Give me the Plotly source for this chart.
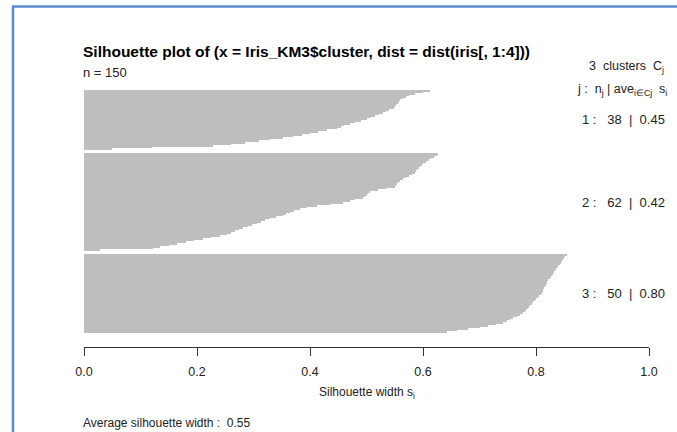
import plotly.graph_objects as go

# ---- data ----
cluster_ids = [1, 2, 3]
cluster_sizes = [38, 62, 50]
cluster_avgs = [0.45, 0.42, 0.80]
overall_avg = 0.55
n_total = 150

sil_c1 = [0.612, 0.60, 0.585, 0.575, 0.57, 0.565, 0.56, 0.558, 0.555, 0.552,
          0.55, 0.548, 0.54, 0.535, 0.53, 0.52, 0.515, 0.506, 0.50, 0.49,
          0.48, 0.47, 0.46, 0.455, 0.447, 0.43, 0.415, 0.40, 0.385, 0.37,
          0.353, 0.33, 0.31, 0.285, 0.26, 0.228, 0.12, 0.05]
sil_c2 = [0.627, 0.624, 0.62, 0.615, 0.61, 0.605, 0.60, 0.598, 0.595,
          0.593, 0.59, 0.588, 0.586, 0.58, 0.575, 0.57, 0.565, 0.559,
          0.556, 0.554, 0.552, 0.55, 0.535, 0.52, 0.506, 0.502, 0.50, 0.497, 0.494,
          0.48, 0.47, 0.459, 0.435, 0.412, 0.395, 0.382,
          0.372, 0.365, 0.358, 0.352, 0.34, 0.329, 0.32, 0.313, 0.306,
          0.298, 0.29, 0.282, 0.275, 0.268, 0.26, 0.253,
          0.24, 0.225, 0.211, 0.195, 0.18, 0.164, 0.15, 0.135, 0.122, 0.028]
sil_c3 = [0.854, 0.852, 0.85, 0.848, 0.846, 0.844, 0.842, 0.839,
          0.837, 0.835, 0.833, 0.831, 0.83, 0.828, 0.826, 0.824, 0.821,
          0.82, 0.819, 0.818, 0.816, 0.815, 0.813, 0.812, 0.81,
          0.808, 0.805, 0.803, 0.80, 0.798, 0.795, 0.793, 0.79,
          0.787, 0.785, 0.782, 0.78, 0.777, 0.772, 0.766, 0.76,
          0.754, 0.748, 0.742, 0.73, 0.715, 0.70, 0.68, 0.66, 0.642]
x_ticks = [0.0, 0.2, 0.4, 0.6, 0.8, 1.0]
x_tick_labels = ["0.0", "0.2", "0.4", "0.6", "0.8", "1.0"]

# ---- layout helpers ----
W, H = 677, 432
L, R_, T, B = 84, 28, 90, 85
GAP = 2
FONT = "Liberation Sans, Arial, sans-serif"

series = [sil_c1, sil_c2, sil_c3]
xs, ys, mids = [], [], []
pos = 0
for k, vals in enumerate(series):
    start = pos
    for v in vals:
        xs.append(v)
        ys.append(pos + 0.5)
        pos += 1
    mids.append((start + pos) / 2)
    pos += GAP
total_units = pos - GAP
plot_h = H - T - B
bars_px = 333 - 90
y_max = plot_h / bars_px * total_units

fig = go.Figure()
fig.add_trace(go.Bar(
    x=xs, y=ys, orientation="h", width=1,
    marker=dict(color="#bebebe", line=dict(width=0)),
    hoverinfo="skip", showlegend=False,
))

def px2paper_x(px):
    return (px - L) / (W - L - R_)

def px2paper_y(py):
    return (H - B - py) / plot_h

annotations = [
    dict(text="<b>Silhouette plot of (x = Iris_KM3$cluster, dist = dist(iris[, 1:4]))</b>",
         xref="paper", yref="paper", x=px2paper_x(81), y=px2paper_y(51),
         xanchor="left", yanchor="middle", showarrow=False,
         font=dict(size=15.5, color="#000000", family=FONT)),
    dict(text=f"n = {n_total}", xref="paper", yref="paper",
         x=px2paper_x(81), y=px2paper_y(72), xanchor="left", yanchor="middle",
         showarrow=False, font=dict(size=13, color="#222222", family=FONT)),
    dict(text="3  clusters  C<sub>j</sub>", xref="paper", yref="paper",
         x=px2paper_x(666), y=px2paper_y(67), xanchor="right", yanchor="middle",
         showarrow=False, font=dict(size=12.5, color="#222222", family=FONT)),
    dict(text="j :  n<sub>j</sub> | ave<sub>i∈Cj</sub>  s<sub>i</sub>", xref="paper", yref="paper",
         x=px2paper_x(669), y=px2paper_y(90), xanchor="right", yanchor="middle",
         showarrow=False, font=dict(size=12.5, color="#222222", family=FONT)),
    dict(text="Silhouette width s<sub>i</sub>", xref="paper", yref="paper",
         x=0.5, y=px2paper_y(393), xanchor="center", yanchor="middle",
         showarrow=False, font=dict(size=12, color="#222222", family=FONT)),
    dict(text=f"Average silhouette width :  {overall_avg:.2f}", xref="paper", yref="paper",
         x=px2paper_x(81), y=px2paper_y(423), xanchor="left", yanchor="middle",
         showarrow=False, font=dict(size=12, color="#222222", family=FONT)),
]
for cid, n, a, m in zip(cluster_ids, cluster_sizes, cluster_avgs, mids):
    annotations.append(dict(
        text=f"{cid} :   {n}  |  {a:.2f}", xref="paper", yref="y",
        x=px2paper_x(667), y=m, xanchor="right", yanchor="middle",
        showarrow=False, font=dict(size=13, color="#222222", family=FONT)))

shapes = [
    dict(type="line", xref="paper", yref="paper",
         x0=px2paper_x(13), x1=px2paper_x(13), y0=px2paper_y(440), y1=px2paper_y(6.5),
         line=dict(color="#5b8bd0", width=2.5)),
    dict(type="line", xref="paper", yref="paper",
         x0=px2paper_x(12), x1=px2paper_x(690), y0=px2paper_y(6.5), y1=px2paper_y(6.5),
         line=dict(color="#5b8bd0", width=2.5)),
]

fig.update_layout(
    width=W, height=H,
    margin=dict(l=L, r=R_, t=T, b=B, pad=0),
    paper_bgcolor="white", plot_bgcolor="white",
    bargap=0,
    font=dict(family=FONT, size=12, color="#222222"),
    xaxis=dict(range=[0, 1], tickvals=x_ticks, ticktext=x_tick_labels,
               showgrid=False, zeroline=False, showline=True,
               linecolor="#333333", linewidth=1, ticks="outside",
               ticklen=8, tickcolor="#333333", tickwidth=1,
               ticklabelstandoff=5,
               tickfont=dict(size=12.5, color="#222222", family=FONT),
               fixedrange=True),
    yaxis=dict(range=[y_max, 0], visible=False, showgrid=False,
               zeroline=False, fixedrange=True),
    annotations=annotations,
    shapes=shapes,
)

fig.write_html("out.html", config={"displayModeBar": False})
